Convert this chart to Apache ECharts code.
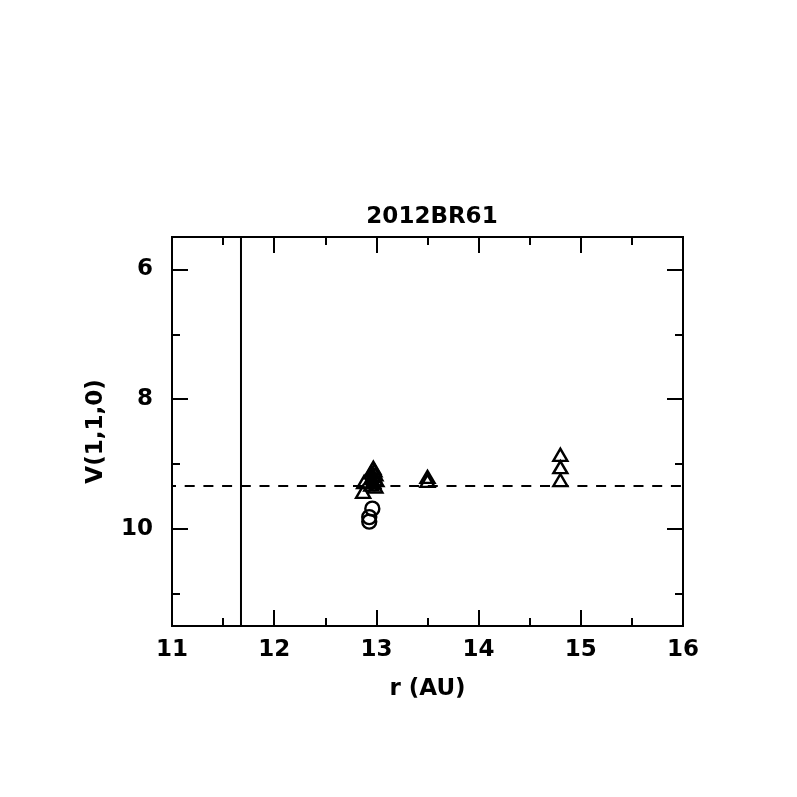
<!DOCTYPE html>
<html>
<head>
<meta charset="utf-8">
<script src="https://cdn.jsdelivr.net/npm/echarts@6/dist/echarts.min.js"></script>
<style>html,body{margin:0;padding:0;background:#fff;}#c{width:797px;height:797px;}</style>
</head>
<body>
<div id="c"></div>
<script>
// ---- data ----
var titleText = '2012BR61';
var xName = 'r (AU)';
var yName = 'V(1,1,0)';
var xMajorTicks = [11, 12, 13, 14, 15, 16];
var xMinorTicks = [11.5, 12.5, 13.5, 14.5, 15.5];
var yMajorTicks = [6, 8, 10];
var yMinorTicks = [7, 9, 11];
var xRange = [11, 16];
var yRange = [5.5, 11.5];
var triangles = [
  [12.97, 9.06], [12.98, 9.1], [12.95, 9.13], [12.99, 9.16], [12.97, 9.19],
  [12.95, 9.22], [13.0, 9.25], [12.97, 9.28], [12.95, 9.32], [12.99, 9.35],
  [12.88, 9.28], [12.87, 9.43],
  [13.5, 9.2], [13.5, 9.26],
  [14.8, 8.86], [14.8, 9.05], [14.8, 9.25]
];
var circles = [[12.98, 9.3], [12.96, 9.69], [12.93, 9.82], [12.93, 9.89]];
var meanV = 9.34;
var limitR = 11.675;

var FONT = 'DejaVu Sans';
var txt = {color: '#000', fontFamily: FONT, fontSize: 23, fontWeight: 'bold'};

function xAx(pos, ticks, len, labels) {
  return {
    type: 'value', position: pos, min: xRange[0], max: xRange[1],
    axisLine: {show: true, onZero: false, lineStyle: {color: '#000', width: 2}},
    axisTick: {show: true, inside: true, length: len, customValues: ticks, lineStyle: {color: '#000', width: 2}},
    axisLabel: labels ? Object.assign({show: true, customValues: ticks, margin: 13}, txt) : {show: false},
    splitLine: {show: false},
    name: labels ? xName : '', nameLocation: 'middle', nameGap: 52, nameTextStyle: txt
  };
}
function yAx(pos, ticks, len, labels) {
  return {
    type: 'value', position: pos, inverse: true, min: yRange[0], max: yRange[1],
    axisLine: {show: true, onZero: false, lineStyle: {color: '#000', width: 2}},
    axisTick: {show: true, inside: true, length: len, customValues: ticks, lineStyle: {color: '#000', width: 2}},
    axisLabel: labels ? Object.assign({show: true, customValues: ticks, margin: 19}, txt) : {show: false},
    splitLine: {show: false},
    name: labels ? yName : '', nameLocation: 'middle', nameGap: 64, nameRotate: 90, nameTextStyle: txt
  };
}

var mark = {color: 'rgba(0,0,0,0)', borderColor: '#000', borderWidth: 2.4, opacity: 1};

var chart = echarts.init(document.getElementById('c'), null, {renderer: 'canvas'});
chart.setOption({
  animation: false,
  backgroundColor: '#fff',
  title: {text: titleText, left: 427, textAlign: 'center', top: 201, textStyle: txt},
  grid: {left: 172, right: 114, top: 237, bottom: 171, containLabel: false},
  xAxis: [
    xAx('bottom', xMajorTicks, 16, true),
    xAx('bottom', xMinorTicks, 8, false),
    xAx('top', xMajorTicks, 16, false),
    xAx('top', xMinorTicks, 8, false)
  ],
  yAxis: [
    yAx('left', yMajorTicks, 16, true),
    yAx('left', yMinorTicks, 8, false),
    yAx('right', yMajorTicks, 16, false),
    yAx('right', yMinorTicks, 8, false)
  ],
  series: [
    {
      type: 'line', xAxisIndex: 0, yAxisIndex: 0, symbol: 'none',
      data: [[xRange[0], meanV], [xRange[1], meanV]],
      lineStyle: {color: '#000', width: 2, type: [10, 8.7], dashOffset: 6}, z: 1
    },
    {
      type: 'line', xAxisIndex: 0, yAxisIndex: 0, symbol: 'none',
      data: [[limitR, yRange[0]], [limitR, yRange[1]]],
      lineStyle: {color: '#000', width: 2}, z: 1
    },
    {
      type: 'scatter', xAxisIndex: 0, yAxisIndex: 0, symbol: 'triangle', symbolSize: [14, 12],
      data: triangles, itemStyle: mark, z: 3
    },
    {
      type: 'scatter', xAxisIndex: 0, yAxisIndex: 0, symbol: 'circle', symbolSize: 14,
      data: circles, itemStyle: mark, z: 3
    }
  ]
});
</script>
</body>
</html>
